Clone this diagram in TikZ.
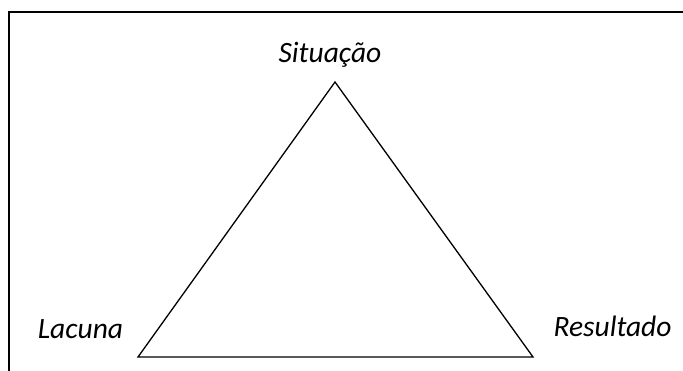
\documentclass[tikz,border=0pt]{standalone}
\usepackage{fontspec}
\setmainfont{Carlito}
\begin{document}
\begin{tikzpicture}[x=1pt,y=1pt,
  lbl/.style={anchor=base,inner sep=0pt,font=\fontsize{29.5}{35}\selectfont\itshape},
  frame/.style={line width=1.8pt},
  tri/.style={line width=1.3pt,line join=miter}]
\useasboundingbox (0,0) rectangle (683,371);
\draw[frame] (683,359) -- (9,359) -- (9,0);
\coordinate (apex) at (335,289);
\coordinate (bl) at (138,14);
\coordinate (br) at (533,14);
\draw[tri] (apex) -- (bl) -- (br) -- cycle;
\node[lbl] (sit) at (330,308) {Situação};
\node[lbl] (lac) at (80.5,32) {Lacuna};
\node[lbl] (res) at (612.5,34) {Resultado};
\end{tikzpicture}
\end{document}
